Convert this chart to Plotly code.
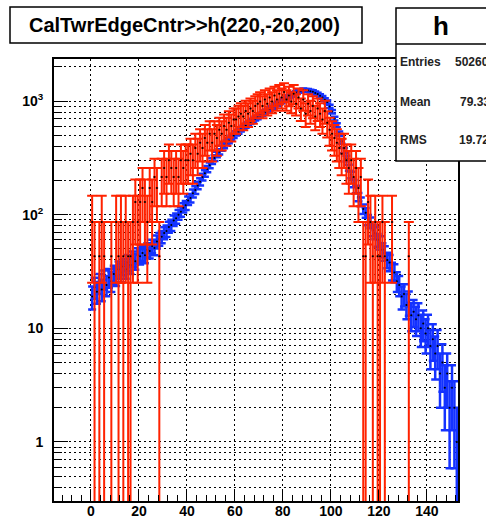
import math
import plotly.graph_objects as go

# ---------------- data ----------------
# blue histogram: bins of width 1, lower edges 0..152
blue_bins = list(range(0, 153))
blue_counts = [
    19, 23, 21, 25, 22, 27, 24, 28, 26, 30,
    29, 33, 31, 35, 33, 38, 36, 41, 39, 44,
    43, 46, 44, 49, 48, 53, 51, 58, 61, 64,
    69, 72, 78, 81, 89, 93, 100, 106, 115, 121,
    133, 140, 154, 165, 181, 195, 214, 231, 252, 272,
    296, 315, 339, 358, 384, 404, 428, 447, 473, 494,
    519, 538, 562, 583, 607, 628, 653, 674, 700, 719,
    747, 768, 798, 820, 851, 875, 906, 932, 964, 990,
    1026, 1055, 1092, 1122, 1162, 1187, 1217, 1232, 1252, 1243,
    1241, 1222, 1207, 1176, 1152, 1112, 1077, 1027, 982, 897,
    807, 702, 612, 517, 442, 367, 312, 259, 224, 188,
    167, 143, 130, 112, 104, 90, 85, 73, 69, 60,
    57, 49, 46, 40, 38, 32, 31, 26, 24, 19,
    20, 16, 17, 13, 14, 12, 13, 10, 11, 9,
    10, 7, 8, 6, 7, 4, 5, 3, 4, 2,
    3, 2, 1,
]

# red histogram (weighted entries): bin lower edge and number of entries
red_bins = [
    0, 1, 3, 4, 5, 8, 10, 11, 12, 13, 14, 15, 16, 17, 18, 19,
    20, 21, 22, 23, 24, 25, 26, 27, 28, 29,
    30, 31, 32, 33, 34, 35, 36, 37, 38, 39,
    40, 41, 42, 43, 44, 45, 46, 47, 48, 49,
    50, 51, 52, 53, 54, 55, 56, 57, 58, 59,
    60, 61, 62, 63, 64, 65, 66, 67, 68, 69,
    70, 71, 72, 73, 74, 75, 76, 77, 78, 79,
    80, 81, 82, 83, 84, 85, 86, 87, 88, 89,
    90, 91, 92, 93, 94, 95, 96, 97, 98, 99,
    100, 101, 102, 103, 104, 105, 106, 107, 108, 109,
    110, 111, 112, 113, 114, 115, 116, 117, 118, 119,
    120, 121, 122, 125, 132,
]
red_counts = [
    2, 1, 1, 2, 1, 1, 2, 1, 2, 1, 2, 1, 1, 2, 3, 2,
    3, 4, 3, 2, 4, 3, 5, 4, 1, 5,
    6, 5, 7, 6, 5, 6, 5, 7, 6, 7,
    7, 8, 7, 9, 8, 10, 9, 11, 10, 12,
    10, 12, 11, 13, 12, 14, 13, 15, 14, 16,
    16, 17, 18, 17, 19, 18, 20, 19, 21, 22,
    23, 21, 24, 22, 25, 23, 26, 24, 27, 25,
    28, 24, 26, 23, 27, 22, 25, 20, 24, 18,
    22, 19, 21, 17, 20, 18, 16, 19, 15, 13,
    12, 11, 10, 9, 8, 9, 7, 6, 7, 5,
    6, 4, 5, 1, 1, 3, 2, 1, 2, 1,
    1, 2, 1, 2, 1,
]
red_weight = 43.0

x_ticks = [0, 20, 40, 60, 80, 100, 120, 140]
y_ticks = [1, 10, 100, 1000]
y_ticktext = ["1", "10", "10<sup>2</sup>", "10<sup>3</sup>"]
y_minor = [0.4, 0.5, 0.6, 0.7, 0.8, 0.9,
           2, 3, 4, 5, 6, 7, 8, 9,
           20, 30, 40, 50, 60, 70, 80, 90,
           200, 300, 400, 500, 600, 700, 800, 900, 2000]

title_text = "CalTwrEdgeCntr>>h(220,-20,200)"
stats_name = "h"
stats_labels = ["Entries", "Mean", "RMS"]
stats_values = ["502603", "79.3357", "19.7246"]

# ---------------- styling ----------------
BLUE = "#1432ff"
RED = "#ff2200"
FONT = "Liberation Sans, Arial, Helvetica, sans-serif"
W, H = 486, 523
L, R, T, B = 54, 28, 59, 22
PW, PH = W - L - R, H - T - B


def px(x):
    return (x - L) / PW


def py(y):
    return (H - B - y) / PH


blue_x = [b + 0.5 for b in blue_bins]
blue_err = [math.sqrt(c) for c in blue_counts]
red_x = [b + 0.5 for b in red_bins]
red_y = [n * red_weight for n in red_counts]
red_err = [math.sqrt(n) * red_weight for n in red_counts]

fig = go.Figure()
fig.add_trace(go.Scatter(
    x=blue_x, y=blue_counts, mode="markers",
    marker=dict(color="black", size=2),
    error_y=dict(type="data", array=blue_err, color=BLUE, thickness=2.5, width=4),
    error_x=dict(type="constant", value=0.5, color=BLUE, thickness=2.5, width=0),
    hoverinfo="x+y",
))
fig.add_trace(go.Scatter(
    x=red_x, y=red_y, mode="markers",
    marker=dict(color="black", size=2),
    error_y=dict(type="data", array=red_err, color=RED, thickness=2, width=5),
    error_x=dict(type="constant", value=0.5, color=RED, thickness=2, width=0),
    hoverinfo="x+y",
))

fig.update_layout(
    width=W, height=H,
    margin=dict(l=L, r=R, t=T, b=B, pad=0, autoexpand=False),
    paper_bgcolor="white", plot_bgcolor="white",
    showlegend=False,
    font=dict(family=FONT, color="black"),
)

fig.update_xaxes(
    range=[-15.4, 153], automargin=False,
    tickmode="array", tickvals=x_ticks,
    ticks="inside", ticklen=11, tickwidth=1, tickcolor="black",
    tickfont=dict(family=FONT, size=14, weight="bold"),
    ticklabelstandoff=-4,
    showline=True, linecolor="black", linewidth=2, mirror=True,
    showgrid=True, gridcolor="black", gridwidth=1, griddash="2px,3px",
    zeroline=False,
    minor=dict(dtick=4, tick0=0, ticks="inside", ticklen=6, tickcolor="black", showgrid=False),
)
fig.update_yaxes(
    type="log", range=[-0.52, 3.37], automargin=False,
    tickmode="array", tickvals=y_ticks, ticktext=y_ticktext,
    ticks="inside", ticklen=14, tickwidth=1, tickcolor="black",
    tickfont=dict(family=FONT, size=14, weight="bold"),
    ticklabelstandoff=6,
    showline=True, linecolor="black", linewidth=2, mirror=True,
    showgrid=True, gridcolor="black", gridwidth=1, griddash="2px,3px",
    zeroline=False,
    minor=dict(tickmode="array", tickvals=y_minor, ticks="inside", ticklen=8,
               tickcolor="black", showgrid=True, gridcolor="black",
               gridwidth=1, griddash="2px,3px"),
)

shapes = []
annotations = []
# title box
shapes.append(dict(type="rect", xref="paper", yref="paper",
                   x0=px(10), x1=px(362), y0=py(43), y1=py(7),
                   line=dict(color="black", width=1.5), fillcolor="white", layer="above"))
annotations.append(dict(xref="paper", yref="paper", x=px(184), y=py(25),
                        text=title_text, showarrow=False, xanchor="center", yanchor="middle",
                        font=dict(family=FONT, size=20, weight="bold", color="black")))
# stats box
shapes.append(dict(type="rect", xref="paper", yref="paper",
                   x0=px(396), x1=px(520), y0=py(161), y1=py(8),
                   line=dict(color="black", width=1.5), fillcolor="white", layer="above"))
shapes.append(dict(type="line", xref="paper", yref="paper",
                   x0=px(396), x1=px(520), y0=py(44), y1=py(44),
                   line=dict(color="black", width=1.5), layer="above"))
annotations.append(dict(xref="paper", yref="paper", x=px(441), y=py(26),
                        text=stats_name, showarrow=False, xanchor="center", yanchor="middle",
                        font=dict(family=FONT, size=26, weight="bold", color="black")))
for lab, val, yy, vx in zip(stats_labels, stats_values, [62, 102, 140], [453, 458, 457]):
    annotations.append(dict(xref="paper", yref="paper", x=px(398), y=py(yy),
                            text=lab, showarrow=False, xanchor="left", yanchor="middle",
                            font=dict(family=FONT, size=12, weight="bold", color="#222")))
    annotations.append(dict(xref="paper", yref="paper", x=px(vx), y=py(yy),
                            text=val, showarrow=False, xanchor="left", yanchor="middle",
                            font=dict(family=FONT, size=12, weight="bold", color="#222")))

fig.update_layout(shapes=shapes, annotations=annotations)
post = (
    "var s=document.documentElement.style;s.margin='0';s.padding='0';s.height='523px';s.overflow='hidden';"
    "var b=document.body.style;b.margin='0';b.padding='0';b.height='523px';b.overflow='hidden';"
    "var d=document.querySelector('.plotly-graph-div');d.style.position='absolute';"
    "d.style.left='0px';d.style.top='0px';"
)
fig.write_html("out.html", config={"displayModeBar": False}, post_script=post)
